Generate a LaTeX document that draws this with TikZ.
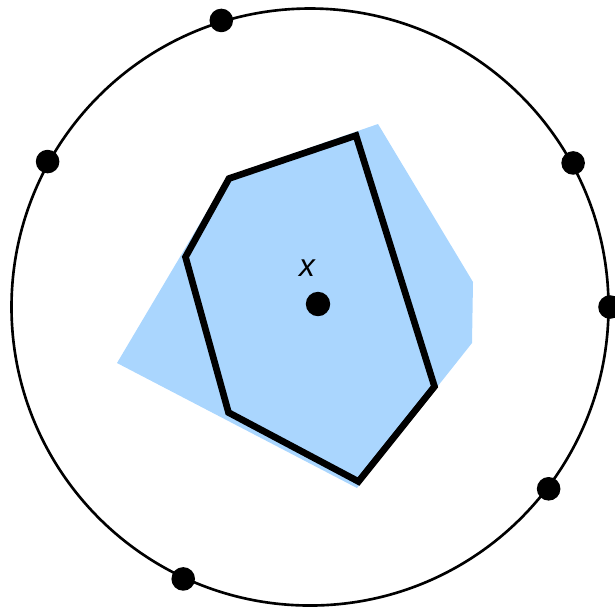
\documentclass[tikz,border=0pt]{standalone}
\usepackage{fontspec}
\setsansfont{Liberation Sans}
\usetikzlibrary{calc}
\definecolor{regionblue}{RGB}{170,214,254}
\begin{document}
\begin{tikzpicture}[line join=miter, every node/.style={font=\sffamily\itshape\fontsize{9}{10}\selectfont}]
        \useasboundingbox (0,0) rectangle (6.15,-6.08);
        \coordinate (O) at (3.10,-3.07);
        % region (filled)
        \fill[regionblue] (1.17,-3.63) -- (2.28,-1.76) -- (3.78,-1.24) -- (4.73,-2.82)
            -- (4.72,-3.43) -- (3.57,-4.88) -- cycle;
        % hexagon
        \draw[line width=1.9pt] (2.29,-1.785) -- (3.56,-1.355) -- (4.345,-3.865)
            -- (3.585,-4.815) -- (2.285,-4.125) -- (1.855,-2.57) -- cycle;
        % outer circle with points
        \draw[line width=0.75pt] (O) circle (2.985cm);
        \foreach \angle in {107.2, 151, 28.7, 0, -37.3, -115} {
            \fill ($(O)+(\angle:3.0cm)$) circle (0.118cm);
        }
        % centre
        \fill (3.18,-3.04) circle (0.122cm);
        \node (xlabel) at (3.07,-2.68) {x};
\end{tikzpicture}
\end{document}
